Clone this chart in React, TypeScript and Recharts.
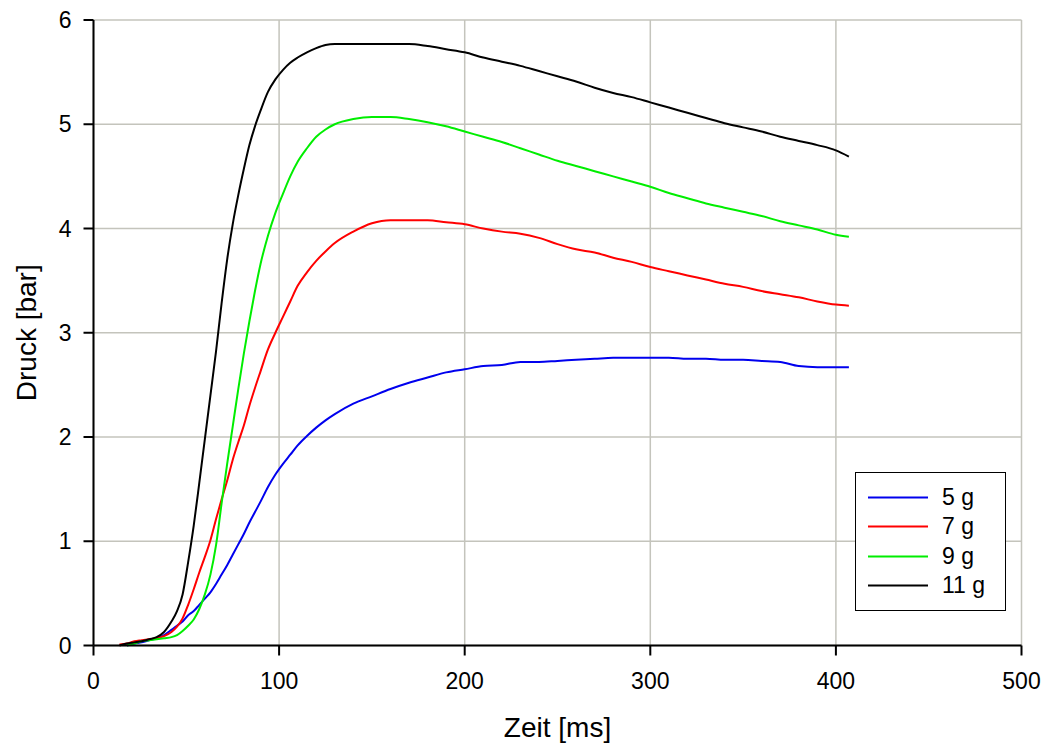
import React from "react";
import {
  LineChart,
  Line,
  XAxis,
  YAxis,
  CartesianGrid,
  Legend
} from "recharts";

// Zeitpunkte [ms], gemeinsame Stützstellen für alle Messreihen
const zeitMs = [
  14, 18, 22, 26, 30, 34, 38, 42, 45, 48, 51, 54, 57, 60, 63, 66, 69, 72, 75,
  78, 81, 84, 87, 90, 94, 98, 102, 106, 110, 115, 120, 125, 130, 140, 150, 160,
  170, 180, 190, 200, 210, 220, 230, 240, 250, 260, 270, 280, 290, 300, 310,
  320, 330, 340, 350, 360, 370, 380, 390, 400, 407
];

// Druck [bar] je Ladungsmenge
const druck5g = [
  null, 0.0, 0.02, 0.03, 0.05, 0.07, 0.1, 0.15, 0.19, 0.23, 0.29, 0.33, 0.39,
  0.45, 0.51, 0.59, 0.68, 0.77, 0.87, 0.97, 1.07, 1.18, 1.28, 1.38, 1.52, 1.64,
  1.74, 1.83, 1.92, 2.01, 2.09, 2.16, 2.22, 2.32, 2.39, 2.46, 2.52, 2.57, 2.62,
  2.65, 2.68, 2.69, 2.72, 2.72, 2.73, 2.74, 2.75, 2.76, 2.76, 2.76, 2.76, 2.75,
  2.75, 2.74, 2.74, 2.73, 2.72, 2.68, 2.67, 2.67, 2.67
];

const druck7g = [
  0.01, 0.02, 0.04, 0.05, 0.06, 0.07, 0.09, 0.13, 0.18, 0.26, 0.39, 0.54, 0.7,
  0.85, 1.01, 1.21, 1.4, 1.58, 1.78, 1.95, 2.11, 2.3, 2.47, 2.63, 2.84, 3.0,
  3.15, 3.3, 3.45, 3.58, 3.69, 3.78, 3.86, 3.97, 4.05, 4.08, 4.08, 4.08, 4.06,
  4.04, 4.0, 3.97, 3.95, 3.91, 3.85, 3.8, 3.77, 3.72, 3.68, 3.63, 3.59, 3.55,
  3.51, 3.47, 3.44, 3.4, 3.37, 3.34, 3.3, 3.27, 3.26
];

const druck9g = [
  null, 0.0, 0.02, 0.04, 0.05, 0.06, 0.07, 0.08, 0.1, 0.14, 0.19, 0.25, 0.35,
  0.49, 0.68, 0.96, 1.36, 1.74, 2.1, 2.46, 2.8, 3.11, 3.4, 3.66, 3.93, 4.15,
  4.33, 4.5, 4.64, 4.77, 4.88, 4.95, 5.0, 5.05, 5.07, 5.07, 5.05, 5.02, 4.98,
  4.93, 4.88, 4.83, 4.77, 4.71, 4.65, 4.6, 4.55, 4.5, 4.45, 4.4, 4.34, 4.29,
  4.24, 4.2, 4.16, 4.12, 4.07, 4.03, 3.99, 3.94, 3.92
];

const druck11g = [
  0.0, 0.02, 0.03, 0.04, 0.06, 0.08, 0.13, 0.23, 0.33, 0.49, 0.8, 1.15, 1.56,
  1.98, 2.4, 2.82, 3.28, 3.7, 4.04, 4.32, 4.57, 4.8, 4.98, 5.13, 5.31, 5.43,
  5.52, 5.59, 5.64, 5.69, 5.73, 5.76, 5.77, 5.77, 5.77, 5.77, 5.77, 5.75, 5.72,
  5.69, 5.64, 5.6, 5.56, 5.51, 5.46, 5.41, 5.35, 5.3, 5.26, 5.21, 5.16, 5.11,
  5.06, 5.01, 4.97, 4.93, 4.88, 4.84, 4.8, 4.75, 4.69
];

const serienNamen = ["5 g", "7 g", "9 g", "11 g"];
const serienFarben = ["#0000ee", "#ff0000", "#00ee00", "#000000"];
const serienKeys = ["g5", "g7", "g9", "g11"];

const xTicks = [0, 100, 200, 300, 400, 500];
const yTicks = [0, 1, 2, 3, 4, 5, 6];

const rows = zeitMs.map((t, i) => ({
  t,
  g5: druck5g[i],
  g7: druck7g[i],
  g9: druck9g[i],
  g11: druck11g[i]
}));

const FONT = "'Liberation Sans', Arial, sans-serif";

const YTitle = (props: any) => {
  const { viewBox } = props;
  const x = viewBox.x + 36;
  const y = viewBox.y + viewBox.height / 2;
  return (
    <text
      x={x}
      y={y}
      transform={`rotate(-90 ${x} ${y})`}
      textAnchor="middle"
      fontSize={28}
      fontFamily={FONT}
      fill="#000"
    >
      Druck [bar]
    </text>
  );
};

const XTitle = (props: any) => {
  const { viewBox } = props;
  return (
    <text
      x={viewBox.x + viewBox.width / 2}
      y={viewBox.y + 91}
      textAnchor="middle"
      fontSize={28}
      fontFamily={FONT}
      fill="#000"
    >
      Zeit [ms]
    </text>
  );
};

const renderLegend = (props: any) => {
  const payload = [...(props.payload || [])].sort(
    (a: any, b: any) => serienNamen.indexOf(a.value) - serienNamen.indexOf(b.value)
  );
  return (
    <div
      style={{
        width: 151,
        height: 139,
        boxSizing: "border-box",
        border: "1px solid #000",
        background: "#fff",
        paddingTop: 10,
        fontFamily: FONT,
        color: "#000"
      }}
    >
      {payload.map((entry: any) => (
        <div
          key={entry.value}
          style={{ display: "flex", alignItems: "center", height: 29.3 }}
        >
          <svg width={86} height={29} style={{ display: "block" }}>
            <line
              x1={12}
              x2={72}
              y1={14.5}
              y2={14.5}
              stroke={entry.color}
              strokeWidth={2}
            />
          </svg>
          <span style={{ fontSize: 23, lineHeight: "29px" }}>{entry.value}</span>
        </div>
      ))}
    </div>
  );
};

export default function App() {
  const tickStyle = { fontSize: 23, fill: "#000", fontFamily: FONT };
  const axisLine = { stroke: "#000", strokeWidth: 2 };
  return (
    <div style={{ position: "absolute", left: 0, top: 0, background: "#fff" }}>
      <LineChart
        width={1050}
        height={747}
        data={rows}
        margin={{ top: 20, right: 28.5, bottom: 0, left: 0 }}
      >
        <CartesianGrid stroke="#c4c4bc" strokeWidth={1.5} />
        <XAxis
          dataKey="t"
          type="number"
          domain={[0, 500]}
          ticks={xTicks}
          height={101.5}
          tickSize={10}
          tickMargin={17}
          tick={tickStyle}
          axisLine={axisLine}
          tickLine={axisLine}
          label={{ value: "Zeit [ms]", content: XTitle }}
        />
        <YAxis
          type="number"
          domain={[0, 6]}
          ticks={yTicks}
          width={93.5}
          tickSize={10}
          tickMargin={12}
          tick={tickStyle}
          axisLine={axisLine}
          tickLine={axisLine}
          label={{ value: "Druck [bar]", content: YTitle }}
        />
        <XAxis
          xAxisId="oben"
          orientation="top"
          type="number"
          domain={[0, 500]}
          height={0}
          tick={false}
          tickLine={false}
          axisLine={axisLine}
        />
        <YAxis
          yAxisId="rechts"
          orientation="right"
          type="number"
          domain={[0, 6]}
          width={0}
          tick={false}
          tickLine={false}
          axisLine={axisLine}
        />
        <Legend
          layout="vertical"
          align="center"
          verticalAlign="middle"
          wrapperStyle={{ left: 855, top: 472, width: 151, height: 139 }}
          content={renderLegend}
        />
        {serienKeys.map((key, i) => (
          <Line
            key={key}
            type="monotone"
            dataKey={key}
            name={serienNamen[i]}
            stroke={serienFarben[i]}
            strokeWidth={2}
            dot={false}
            activeDot={false}
            isAnimationActive={false}
          />
        ))}
      </LineChart>
    </div>
  );
}
